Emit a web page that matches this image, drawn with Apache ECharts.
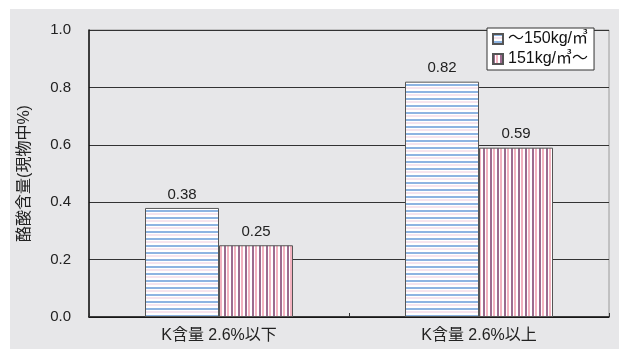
<!DOCTYPE html>
<html>
<head>
<meta charset="utf-8">
<script src="https://cdn.jsdelivr.net/npm/echarts@6/dist/echarts.min.js"></script>
<style>
  html, body { margin: 0; padding: 0; background: #ffffff; }
  #chart { width: 619px; height: 349px; }
</style>
</head>
<body>
<div id="chart"></div>
<script>
// Butyric acid content by potassium level and silage density
const categories = ['K含量 2.6%以下', 'K含量 2.6%以上'];
const seriesNames = ['～150kg/㎥', '151kg/㎥～'];
const lowDensity = [0.38, 0.82];
const highDensity = [0.25, 0.59];
const yTicks = { min: 0, max: 1.0, interval: 0.2 };

const FONT = '"Liberation Sans", "Noto Sans CJK JP", sans-serif';

// Horizontal blue stripe fill
function hStripe() {
  const c = document.createElement('canvas');
  c.width = 7; c.height = 7;
  const g = c.getContext('2d');
  g.fillStyle = '#ffffff'; g.fillRect(0, 0, 7, 7);
  g.fillStyle = '#8db4e2'; g.fillRect(0, 0, 7, 2);
  g.fillStyle = '#f6e4ee'; g.fillRect(0, 3, 7, 2);
  return c;
}
// Vertical mauve/pink stripe fill
function vStripe() {
  const c = document.createElement('canvas');
  c.width = 7; c.height = 7;
  const g = c.getContext('2d');
  g.fillStyle = '#ffffff'; g.fillRect(0, 0, 7, 7);
  g.fillStyle = '#9c6b8f'; g.fillRect(0, 0, 2, 7);
  g.fillStyle = '#f3b3c0'; g.fillRect(3, 0, 2, 7);
  return c;
}

const chart = echarts.init(document.getElementById('chart'), null, { renderer: 'canvas' });

const barLabel = {
  show: true, position: 'top', distance: 6,
  color: '#222', fontSize: 15, fontFamily: FONT,
  formatter: p => p.value.toFixed(2)
};

chart.setOption({
  animation: false,
  backgroundColor: '#ffffff',
  graphic: [{
    type: 'rect', z: -10, silent: true,
    shape: { x: 10, y: 9, width: 619, height: 349 },
    style: { fill: '#e7e7e9' }
  }],
  grid: {
    left: 89, right: 10, top: 30, bottom: 32,
    show: true, borderColor: '#9a9a9a', borderWidth: 1,
    backgroundColor: 'transparent'
  },
  legend: {
    left: 487, top: 28,
    orient: 'vertical',
    backgroundColor: '#ffffff',
    borderColor: '#333', borderWidth: 1,
    padding: [3, 6, 3, 5],
    itemGap: 4,
    itemWidth: 10, itemHeight: 10,
    icon: 'rect',
    textStyle: { fontSize: 16, color: '#111', fontFamily: FONT },
    data: seriesNames
  },
  xAxis: {
    type: 'category',
    data: categories,
    axisLine: { lineStyle: { color: '#111', width: 1.5 } },
    axisTick: { show: true, inside: true, length: 4, lineStyle: { color: '#333' } },
    axisLabel: { color: '#222', fontSize: 16, margin: 11, fontFamily: FONT }
  },
  yAxis: {
    type: 'value',
    min: yTicks.min, max: yTicks.max, interval: yTicks.interval,
    name: '酪酸含量(現物中%)',
    nameLocation: 'middle', nameRotate: 90, nameGap: 56,
    nameTextStyle: { fontSize: 16, color: '#222', fontFamily: FONT },
    axisLine: { show: true, lineStyle: { color: '#111', width: 1.5 } },
    axisTick: { show: false },
    axisLabel: { color: '#222', fontSize: 15, margin: 18, fontFamily: FONT,
      formatter: v => v.toFixed(1) },
    splitLine: { lineStyle: { color: '#333', width: 1 } }
  },
  series: [
    {
      name: seriesNames[0], type: 'bar', data: lowDensity,
      barWidth: 74, barGap: '0%',
      itemStyle: { color: { image: hStripe(), repeat: 'repeat' }, borderColor: '#555', borderWidth: 1 },
      label: barLabel
    },
    {
      name: seriesNames[1], type: 'bar', data: highDensity,
      barWidth: 74,
      itemStyle: { color: { image: vStripe(), repeat: 'repeat' }, borderColor: '#555', borderWidth: 1 },
      label: barLabel
    }
  ]
});
</script>
</body>
</html>
